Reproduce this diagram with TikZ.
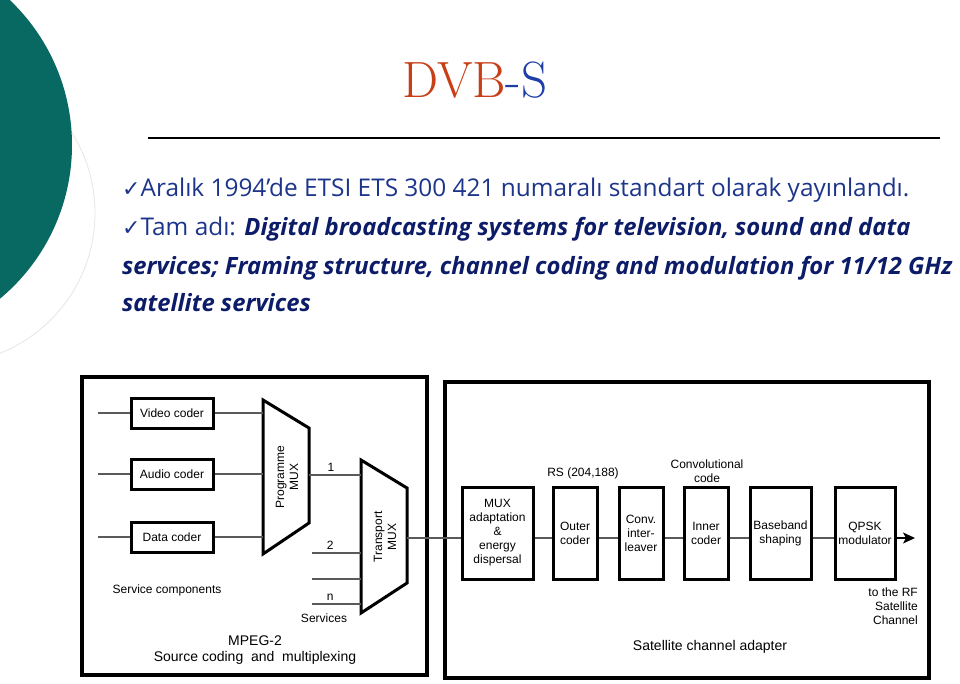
\documentclass[tikz,border=0pt]{standalone}
\usepackage{fontspec}
\setsansfont{Liberation Sans}
\newfontfamily\bodyfont{Open Sans}
\newfontfamily\tickfont{DejaVu Sans}
\usetikzlibrary{positioning, arrows.meta}

\definecolor{slideteal}{RGB}{8,104,98}
\definecolor{titlered}{RGB}{200,62,22}
\definecolor{titleblue}{RGB}{28,62,168}
\definecolor{bodyblue}{RGB}{28,52,138}
\definecolor{navyblue}{RGB}{12,28,104}
\definecolor{wiregray}{RGB}{90,90,90}

\newcommand{\diagfont}{\sffamily\fontsize{12}{14}\selectfont}
\newcommand{\bigdiagfont}{\sffamily\fontsize{14}{15.5}\selectfont}
\newcommand{\bulletfont}{\bodyfont\fontsize{24.4}{28}\selectfont}
\newcommand{\boldfont}{\bodyfont\fontsize{23.8}{28}\selectfont\bfseries\itshape}
\newcommand{\tick}{{\tickfont\fontsize{22}{22}\selectfont ✓}}

\tikzset{
  coder/.style={draw, line width=3pt, minimum width=82, minimum height=30,
                inner sep=0pt, font=\diagfont},
  stage/.style={draw, line width=3pt, minimum height=92, inner sep=0pt,
                align=center, font=\diagfont},
  muxshape/.style={draw, line width=3pt, line join=miter},
  wire/.style={draw=wiregray, line width=1.1pt},
  frame/.style={draw, line width=3.2pt},
  lbl/.style={inner sep=0pt, align=center, font=\diagfont},
  bullet/.style={anchor=base west, inner sep=0pt, font=\bulletfont, text=bodyblue},
  boldbullet/.style={bullet, text=navyblue, font=\boldfont},
}

\begin{document}
\begin{tikzpicture}[x=1pt, y=-1pt]
  \useasboundingbox (0,0) rectangle (960,683);

  % slide background
  \begin{scope}
    \clip (0,0) rectangle (960,683);
    \draw[black!10, line width=0.8pt] (-56,213) circle [radius=151pt];
    \fill[slideteal] (-128,145) circle [radius=200pt];
  \end{scope}

  \node[inner sep=0pt, font=\fontsize{51}{51}\selectfont] (title) at (475,80)
    {\textcolor{titlered}{DVB}\textcolor{titleblue}{-S}};
  \draw[line width=1.3pt] (148,138) -- (940,138);

  \node[bullet] (line1) at (122,196)
    {\tick Aralık 1994’de ETSI ETS 300 421 numaralı standart olarak yayınlandı.};
  \node[bullet] (line2) at (122,235)
    {\tick Tam adı: {\color{navyblue}\boldfont Digital broadcasting systems for television, sound and data}};
  \node[boldbullet] (line3) at (122,274)
    {services; Framing structure, channel coding and modulation for 11/12 GHz};
  \node[boldbullet] (line4) at (122,311) {satellite services};

  % MPEG-2 source coding
  \draw[frame] (82,377) rectangle (427,675);
  \coordinate (srcin) at (98,0);
  \coordinate (sig) at (0,538);

  \node[coder] (video) at (172,413) {Video coder};
  \node[coder] (audio) at (172,474) {Audio coder};
  \node[coder] (data) at (172,537) {Data coder};

  \draw[muxshape] (263,400) coordinate (pmW) -- (309,428) -- (309,523) coordinate (pmE)
    -- (263,554) -- cycle;
  \node[lbl, rotate=90] (progmux) at (287,477) {Programme\\MUX};

  \draw[muxshape] (361,460) coordinate (tmW) -- (407,488) -- (407,583) coordinate (tmE)
    -- (361,613) -- cycle;
  \node[lbl, rotate=90] (transmux) at (385,537) {Transport\\MUX};

  \foreach \c in {video, audio, data} {
    \draw[wire] (\c.west -| srcin) -- (\c.west);
    \draw[wire] (\c.east) -- (\c.east -| pmW);
  }

  \coordinate (svc0) at (309,475);
  \draw[wire] (svc0) -- (svc0 -| tmW) node[lbl, pos=0.42, above=3pt] {1};
  \foreach \y/\t [count=\i] in {553/2, 579/, 604/n} {
    \coordinate (svc\i) at (312,\y);
    \draw[wire] (svc\i) -- (svc\i -| tmW) node[lbl, pos=0.37, above=3pt] {\t};
  }

  \node[lbl] (services) at (324,618) {Services};
  \node[lbl] (components) at (167,590) {Service components};
  \node[lbl, font=\bigdiagfont] (mpeg) at (255,650)
    {MPEG-2\\Source coding~~and~~multiplexing};

  % satellite channel adapter
  \draw[frame] (445,382) rectangle (929,678);

  \node[stage, minimum width=71] (muxadapt) at (497.5,533)
    {MUX\\adaptation\\\&\\energy\\dispersal};
  \node[stage, minimum width=44] (outer) at (575,533) {Outer\\coder};
  \node[stage, minimum width=44] (inter) at (641,533) {Conv.\\inter-\\leaver};
  \node[stage, minimum width=44] (inner) at (706,533) {Inner\\coder};
  \node[stage, minimum width=61] (baseband) at (780.5,533) {Baseband\\shaping};
  \node[stage, minimum width=60] (qpsk) at (865,533) {QPSK\\modulator};
  \coordinate (rfout) at (915,538);

  \draw[wire] (tmE |- sig) -- (muxadapt.west |- sig);
  \foreach \a/\b in {muxadapt/outer, outer/inter, inter/inner, inner/baseband, baseband/qpsk}
    \draw[wire] (\a.east |- sig) -- (\b.west |- sig);
  \draw[wire, -{Stealth[length=12pt, width=11pt, inset=3pt]}, black] (qpsk.east |- sig) -- (rfout);

  \node[lbl] (rs) at (583,473) {RS (204,188)};
  \node[lbl] (convcode) at (707,471) {Convolutional\\code};
  \node[lbl, align=right, anchor=east] (rfchan) at (918,606) {to the RF\\Satellite\\Channel};
  \node[lbl, font=\bigdiagfont] (adapter) at (710,647) {Satellite channel adapter};
\end{tikzpicture}
\end{document}
